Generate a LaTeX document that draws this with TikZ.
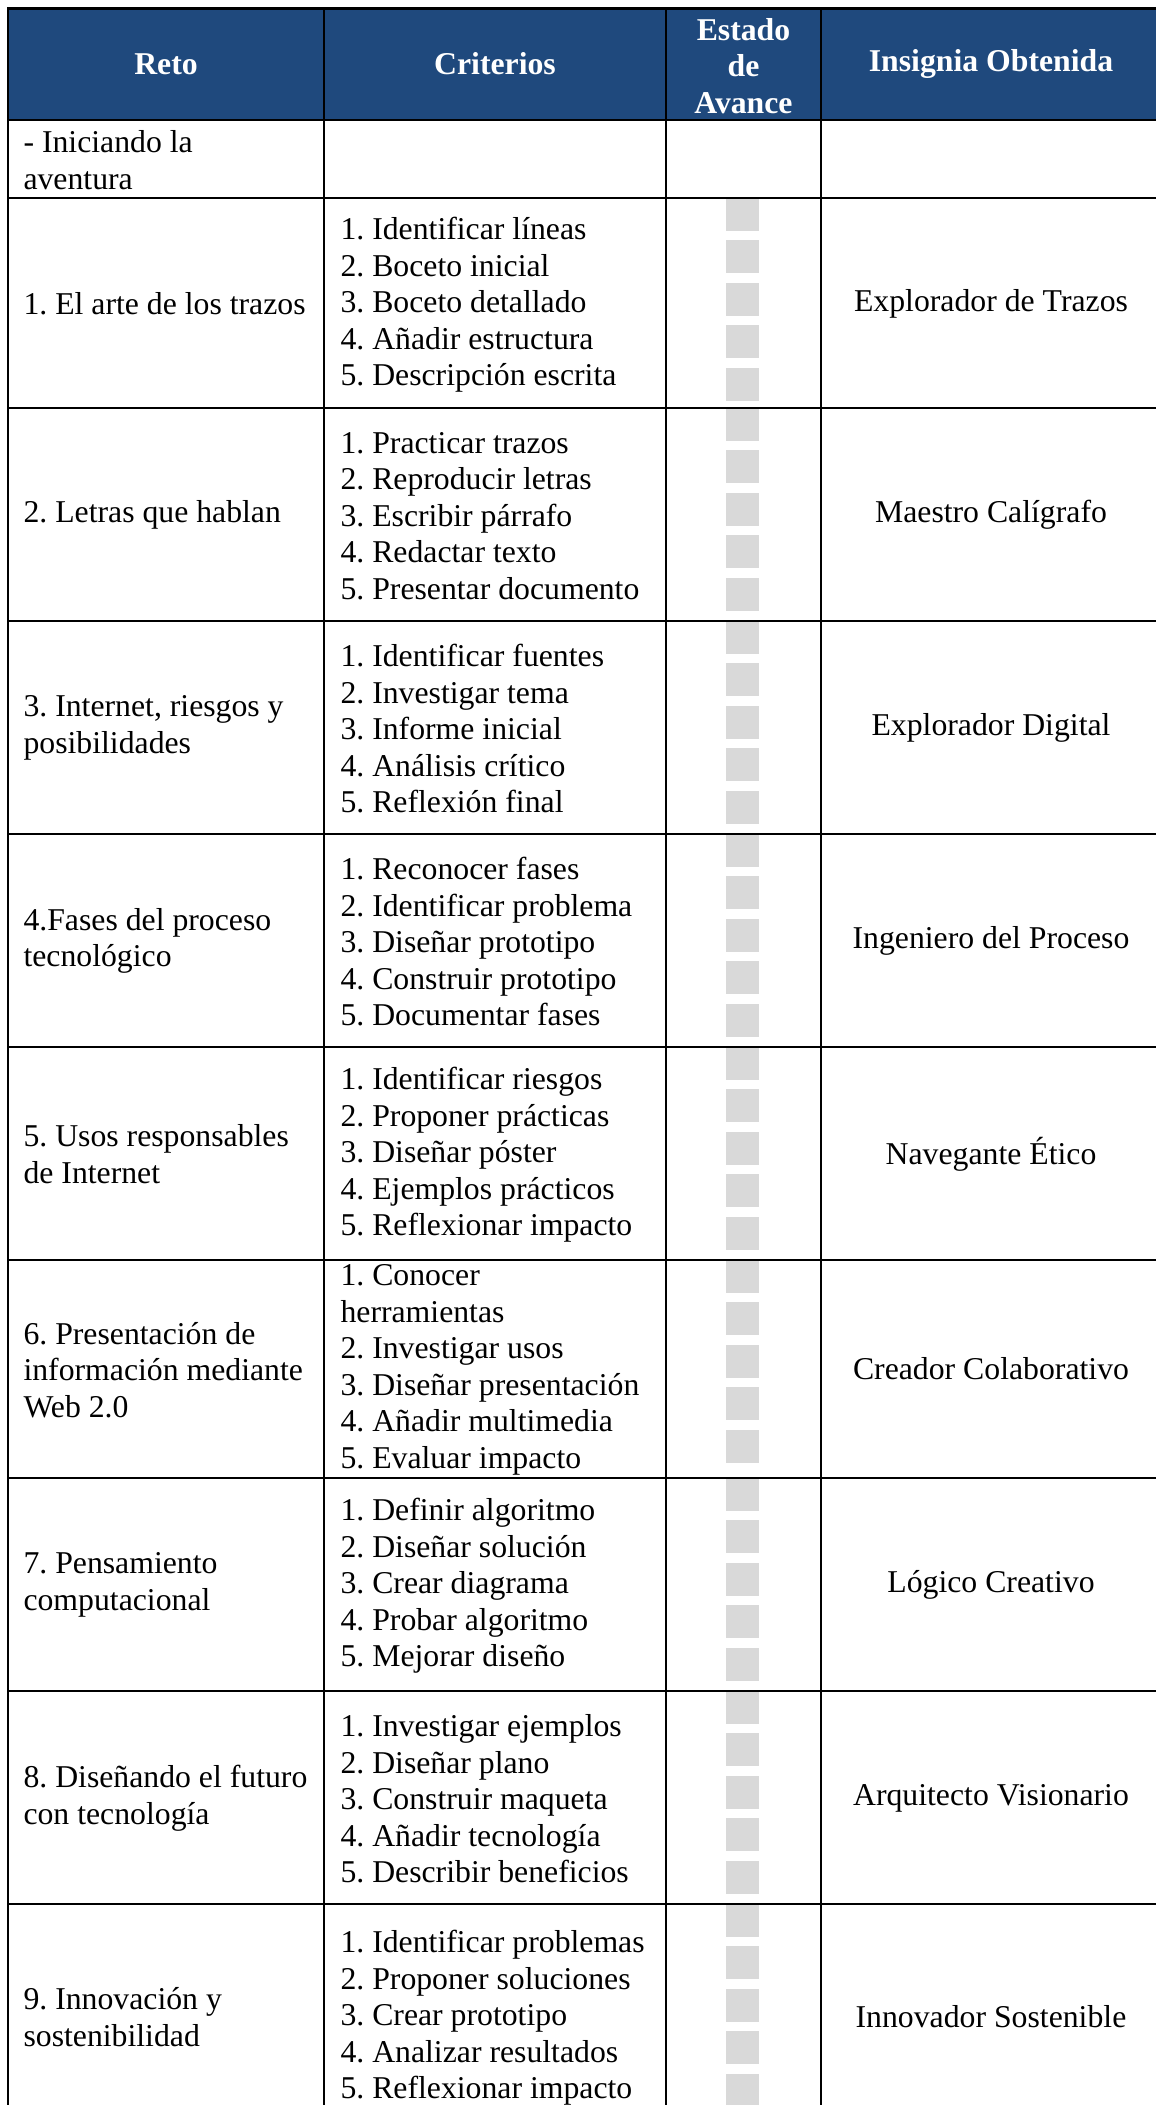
\documentclass[tikz,border=0pt]{standalone}
\usepackage{fontspec}
\setmainfont{Liberation Serif}
\frenchspacing
\definecolor{hdrblue}{RGB}{31,73,125}
\definecolor{boxgray}{RGB}{217,217,217}

\begin{document}
\begin{tikzpicture}[x=0.378pt, y=-0.378pt,
        every node/.style={inner sep=0pt, font=\fontsize{12}{13.8}\selectfont},
        hdr/.style={text=white, font=\fontsize{12}{13.8}\selectfont\bfseries, align=center},
        reto/.style={anchor=west, align=left},
        crit/.style={anchor=west, align=left},
        badge/.style={align=center},
        grid/.style={line width=0.95pt},
        tick/.style={fill=boxgray}]
        \clip (0, 0) rectangle (1156, 2105);
        % header band
        \fill [hdrblue] (8, 8.5) rectangle (1165, 120);
        % progress boxes
        \foreach \t in {198, 408, 621, 834, 1047, 1260, 1478, 1691, 1904}
            \foreach \i in {0, ..., 4}
                \fill [tick] (726, \t + \i*42.4) rectangle (759, \t + \i*42.4 + 33);
        % table lines
        \draw [grid] (8, 2110) -- (8, 8.5) -- (1165, 8.5);
        \foreach \y in {120, 198, 408, 621, 834, 1047, 1260, 1478, 1691, 1904}
            \draw [grid] (8, \y) -- (1165, \y);
        \foreach \x in {324, 666, 821}
            \draw [grid] (\x, 8.5) -- (\x, 2110);
        % header
        \node [hdr] (hReto) at (166, 64) {Reto};
        \node [hdr] (hCrit) at (495, 64) {Criterios};
        \node [hdr] (hEstado) at (743.5, 66) {Estado\\de\\Avance};
        \node [hdr] (hInsignia) at (991, 64) {Insignia Obtenida};
        % row 0
        \node [reto] (reto0) at (23, 160) {- Iniciando la\\aventura};
        % row 1
        \node [reto] (reto1) at (23, 304) {1. El arte de los trazos};
        \node [crit] (crit1) at (340, 305) {1. Identificar líneas\\2. Boceto inicial\\3. Boceto detallado\\4. Añadir estructura\\5. Descripción escrita};
        \node [badge] (ins1) at (991, 304) {Explorador de Trazos};
        % row 2
        \node [reto] (reto2) at (23, 515) {2. Letras que hablan};
        \node [crit] (crit2) at (340, 516) {1. Practicar trazos\\2. Reproducir letras\\3. Escribir párrafo\\4. Redactar texto\\5. Presentar documento};
        \node [badge] (ins2) at (991, 515) {Maestro Calígrafo};
        % row 3
        \node [reto] (reto3) at (23, 728) {3. Internet, riesgos y\\posibilidades};
        \node [crit] (crit3) at (340, 729) {1. Identificar fuentes\\2. Investigar tema\\3. Informe inicial\\4. Análisis crítico\\5. Reflexión final};
        \node [badge] (ins3) at (991, 728) {Explorador Digital};
        % row 4
        \node [reto] (reto4) at (23, 941) {4.Fases del proceso\\tecnológico};
        \node [crit] (crit4) at (340, 942) {1. Reconocer fases\\2. Identificar problema\\3. Diseñar prototipo\\4. Construir prototipo\\5. Documentar fases};
        \node [badge] (ins4) at (991, 941) {Ingeniero del Proceso};
        % row 5
        \node [reto] (reto5) at (23, 1154) {5. Usos responsables\\de Internet};
        \node [crit] (crit5) at (340, 1155) {1. Identificar riesgos\\2. Proponer prácticas\\3. Diseñar póster\\4. Ejemplos prácticos\\5. Reflexionar impacto};
        \node [badge] (ins5) at (991, 1154) {Navegante Ético};
        % row 6
        \node [reto] (reto6) at (23, 1370) {6. Presentación de\\información mediante\\Web 2.0};
        \node [crit] (crit6) at (340, 1370) {1. Conocer\\herramientas\\2. Investigar usos\\3. Diseñar presentación\\4. Añadir multimedia\\5. Evaluar impacto};
        \node [badge] (ins6) at (991, 1369) {Creador Colaborativo};
        % row 7
        \node [reto] (reto7) at (23, 1585) {7. Pensamiento\\computacional};
        \node [crit] (crit7) at (340, 1586) {1. Definir algoritmo\\2. Diseñar solución\\3. Crear diagrama\\4. Probar algoritmo\\5. Mejorar diseño};
        \node [badge] (ins7) at (991, 1585) {Lógico Creativo};
        % row 8
        \node [reto] (reto8) at (23, 1798) {8. Diseñando el futuro\\con tecnología};
        \node [crit] (crit8) at (340, 1799) {1. Investigar ejemplos\\2. Diseñar plano\\3. Construir maqueta\\4. Añadir tecnología\\5. Describir beneficios};
        \node [badge] (ins8) at (991, 1798) {Arquitecto Visionario};
        % row 9
        \node [reto] (reto9) at (23, 2017) {9. Innovación y\\sostenibilidad};
        \node [crit] (crit9) at (340, 2018) {1. Identificar problemas\\2. Proponer soluciones\\3. Crear prototipo\\4. Analizar resultados\\5. Reflexionar impacto};
        \node [badge] (ins9) at (991, 2017) {Innovador Sostenible};
    \end{tikzpicture}
\end{document}
